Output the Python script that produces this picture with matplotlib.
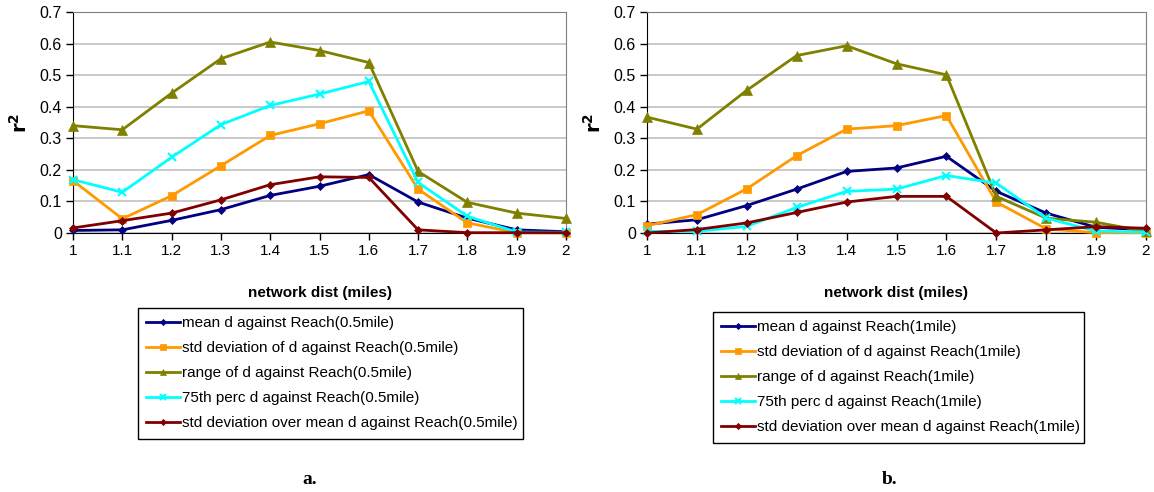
import matplotlib
matplotlib.use("Agg")
import matplotlib.pyplot as plt

plt.rcParams['font.family'] = ['Liberation Sans', 'DejaVu Sans']

x_vals = [1.0, 1.1, 1.2, 1.3, 1.4, 1.5, 1.6, 1.7, 1.8, 1.9, 2.0]
x_ticklabels = ['1', '1.1', '1.2', '1.3', '1.4', '1.5', '1.6', '1.7', '1.8', '1.9', '2']
y_ticks = [0, 0.1, 0.2, 0.3, 0.4, 0.5, 0.6, 0.7]
y_ticklabels = ['0', '0.1', '0.2', '0.3', '0.4', '0.5', '0.6', '0.7']

# Panel a (Reach 0.5 mile)
a_mean = [0.008, 0.010, 0.040, 0.074, 0.119, 0.148, 0.185, 0.098, 0.047, 0.010, 0.004]
a_std = [0.166, 0.045, 0.118, 0.213, 0.309, 0.346, 0.387, 0.139, 0.032, 0.001, 0.000]
a_range = [0.340, 0.327, 0.443, 0.552, 0.605, 0.578, 0.540, 0.195, 0.097, 0.063, 0.046]
a_p75 = [0.169, 0.129, 0.240, 0.343, 0.404, 0.440, 0.480, 0.160, 0.053, 0.003, 0.002]
a_cv = [0.016, 0.039, 0.063, 0.105, 0.153, 0.178, 0.176, 0.010, 0.001, 0.001, 0.001]

# Panel b (Reach 1 mile)
b_mean = [0.028, 0.042, 0.087, 0.139, 0.195, 0.206, 0.243, 0.132, 0.063, 0.018, 0.010]
b_std = [0.023, 0.058, 0.140, 0.245, 0.329, 0.340, 0.372, 0.098, 0.013, 0.001, 0.001]
b_range = [0.367, 0.329, 0.452, 0.562, 0.593, 0.536, 0.501, 0.116, 0.047, 0.034, 0.005]
b_p75 = [0.005, 0.005, 0.021, 0.081, 0.132, 0.139, 0.182, 0.158, 0.047, 0.006, 0.003]
b_cv = [0.000, 0.011, 0.032, 0.065, 0.098, 0.116, 0.116, 0.000, 0.010, 0.020, 0.015]

labels_a = ['mean d against Reach(0.5mile)',
            'std deviation of d against Reach(0.5mile)',
            'range of d against Reach(0.5mile)',
            '75th perc d against Reach(0.5mile)',
            'std deviation over mean d against Reach(0.5mile)']
labels_b = ['mean d against Reach(1mile)',
            'std deviation of d against Reach(1mile)',
            'range of d against Reach(1mile)',
            '75th perc d against Reach(1mile)',
            'std deviation over mean d against Reach(1mile)']

colors = ['#000080', '#FF9900', '#808000', '#00FFFF', '#800000']
markers = ['D', 's', '^', 'x', 'D']
msizes = [4.5, 6, 7, 6, 4.5]

W, H = 1154, 492
fig = plt.figure(figsize=(W / 100, H / 100), dpi=100)

def px_axes(x0, x1, y0, y1):
    return fig.add_axes([x0 / W, 1 - y1 / H, (x1 - x0) / W, (y1 - y0) / H])

ax_a = px_axes(73, 566, 12, 233)
ax_b = px_axes(647, 1146, 12, 233)

def draw(ax, series, labels, leg_box, panel_label, panel_x):
    handles = []
    for s, c, m, ms, lab in zip(series, colors, markers, msizes, labels):
        h, = ax.plot(x_vals, s, color=c, marker=m, markersize=ms, linewidth=2,
                     markeredgewidth=1.5 if m == 'x' else 0.5, markeredgecolor=c,
                     label=lab, clip_on=False, zorder=3)
        handles.append(h)
    ax.set_xlim(1.0, 2.0)
    ax.set_ylim(0, 0.7)
    ax.set_xticks(x_vals)
    ax.set_xticklabels(x_ticklabels, fontsize=11)
    ax.set_yticks(y_ticks)
    ax.set_yticklabels(y_ticklabels, fontsize=11.5)
    ax.yaxis.grid(True, color='#C0C0C0', linewidth=1.2)
    ax.set_axisbelow(True)
    for sp in ['top', 'right']:
        ax.spines[sp].set_color('#808080')
    for sp in ['left', 'bottom']:
        ax.spines[sp].set_color('black')
    ax.tick_params(direction='out', length=5, width=1, colors='black', pad=3)
    ax.set_xlabel('network dist (miles)', fontsize=11, fontweight='bold', labelpad=20)
    ax.set_ylabel(r'$\mathbf{r^2}$', fontsize=14, labelpad=6)
    x0, x1, y0, y1 = leg_box
    fig.legend(handles=handles, labels=labels, loc='upper left',
               bbox_to_anchor=(x0 / W, 1 - y1 / H, (x1 - x0) / W, (y1 - y0) / H),
               mode='expand', fontsize=11, frameon=True, fancybox=False,
               edgecolor='black', framealpha=1, handlelength=2.2, handletextpad=0.1,
               labelspacing=0.72, borderpad=0.55, borderaxespad=0, markerscale=0.7)
    fig.text(panel_x / W, 1 - 479 / H, panel_label, fontsize=14, fontweight='bold',
             family=['Liberation Serif', 'DejaVu Serif'], ha='center', va='center')

draw(ax_a, [a_mean, a_std, a_range, a_p75, a_cv], labels_a, (138, 523, 308, 437), 'a.', 310)
draw(ax_b, [b_mean, b_std, b_range, b_p75, b_cv], labels_b, (713, 1084, 312, 439), 'b.', 890)

for lg in fig.legends:
    lg.get_frame().set_linewidth(1.0)

fig.savefig('out.png', dpi=100, facecolor='white')
